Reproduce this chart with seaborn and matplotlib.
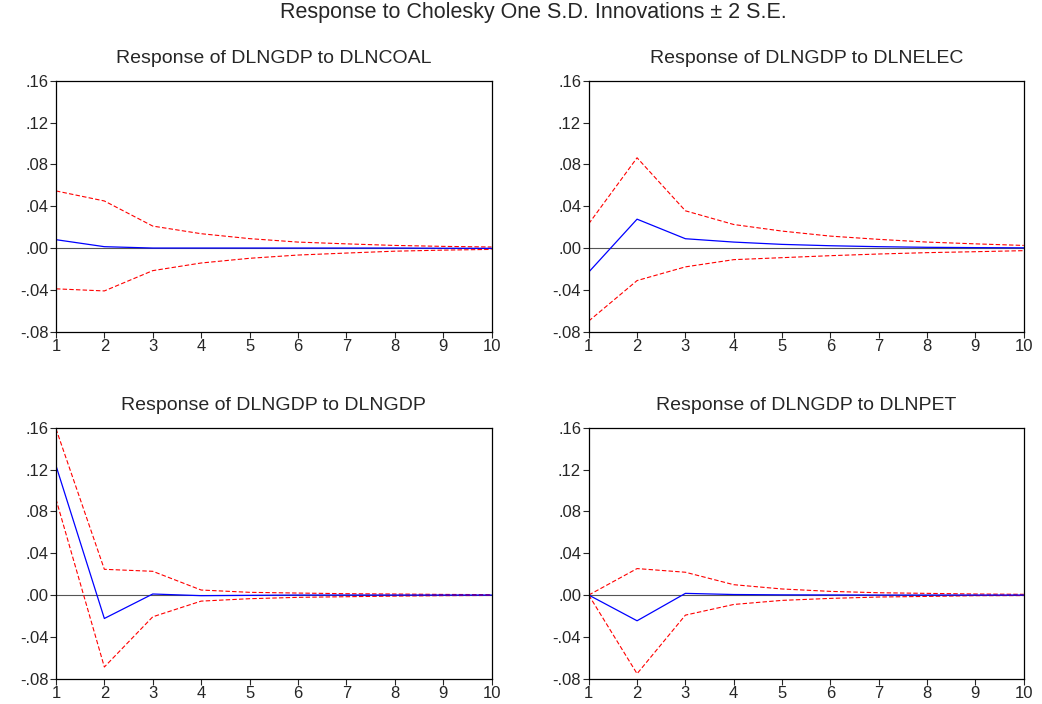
import numpy as np
import pandas as pd
import matplotlib
matplotlib.use("Agg")
import matplotlib.pyplot as plt
from matplotlib.ticker import FuncFormatter
import seaborn as sns

# ---- data ----
periods = list(range(1, 11))

titles = ["Response of DLNGDP to DLNCOAL", "Response of DLNGDP to DLNELEC",
          "Response of DLNGDP to DLNGDP", "Response of DLNGDP to DLNPET"]

coal_resp = [0.008, 0.0013, 0.0, 0.0, 0.0, 0.0, 0.0, 0.0, -0.0002, -0.0003]
coal_up = [0.0546, 0.045, 0.021, 0.0137, 0.009, 0.0057, 0.004, 0.0025, 0.0016, 0.001]
coal_lo = [-0.039, -0.041, -0.0216, -0.0143, -0.0098, -0.0067, -0.0048, -0.003, -0.002, -0.0013]

elec_resp = [-0.023, 0.0276, 0.0089, 0.0057, 0.0035, 0.0022, 0.0013, 0.0007, 0.0004, 0.0002]
elec_up = [0.0232, 0.0863, 0.0356, 0.0225, 0.0162, 0.0114, 0.0083, 0.0057, 0.004, 0.0025]
elec_lo = [-0.0698, -0.0311, -0.018, -0.0111, -0.0092, -0.0073, -0.0057, -0.0044, -0.0035, -0.0025]

gdp_resp = [0.1238, -0.0224, 0.001, -0.0006, -0.0003, 0.0, 0.0, 0.0, 0.0, 0.0]
gdp_up = [0.159, 0.0246, 0.0227, 0.0048, 0.0026, 0.0019, 0.0013, 0.001, 0.0006, 0.0004]
gdp_lo = [0.0918, -0.0688, -0.0208, -0.0058, -0.0035, -0.0022, -0.0016, -0.001, -0.0006, -0.0004]

pet_resp = [0.0, -0.0246, 0.0016, 0.0005, 0.0002, 0.0001, 0.0, 0.0, 0.0, 0.0]
pet_up = [0.0, 0.0253, 0.0218, 0.0099, 0.0058, 0.0035, 0.0022, 0.0016, 0.001, 0.0007]
pet_lo = [0.0, -0.0752, -0.0192, -0.009, -0.0051, -0.0032, -0.0019, -0.0013, -0.0006, -0.0005]

panels = [(coal_resp, coal_up, coal_lo), (elec_resp, elec_up, elec_lo),
          (gdp_resp, gdp_up, gdp_lo), (pet_resp, pet_up, pet_lo)]

yticks = [-0.08, -0.04, 0.0, 0.04, 0.08, 0.12, 0.16]

# ---- figure ----
sns.set_style("ticks")
plt.rcParams["font.family"] = ["Liberation Sans", "DejaVu Sans"]

fig = plt.figure(figsize=(10.42, 7.04), dpi=100)

# axes boxes in figure fractions [left, bottom, width, height]
boxes = [[0.0537, 0.5288, 0.418, 0.3566], [0.565, 0.5288, 0.4175, 0.3566],
         [0.0537, 0.0359, 0.418, 0.3566], [0.565, 0.0359, 0.4175, 0.3566]]


def fmt(v, pos):
    s = "%.2f" % v
    return s.replace("0.", ".", 1)


for box, title, (resp, up, lo) in zip(boxes, titles, panels):
    ax = fig.add_axes(box)
    df = pd.DataFrame({"period": periods, "resp": resp, "up": up, "lo": lo})
    ax.axhline(0, color="#555555", lw=0.8, zorder=1)
    sns.lineplot(data=df, x="period", y="up", ax=ax, color="red", lw=0.8,
                 dashes=False, linestyle=(0, (4, 2)))
    sns.lineplot(data=df, x="period", y="lo", ax=ax, color="red", lw=0.8,
                 dashes=False, linestyle=(0, (4, 2)))
    sns.lineplot(data=df, x="period", y="resp", ax=ax, color="blue", lw=0.9)

    ax.set_xlim(1, 10)
    ax.set_ylim(-0.08, 0.16)
    ax.set_xticks(periods)
    ax.set_yticks(yticks)
    ax.yaxis.set_major_formatter(FuncFormatter(fmt))
    ax.set_xlabel("")
    ax.set_ylabel("")
    ax.tick_params(axis="both", labelsize=12, length=4, width=0.8, pad=1.5,
                   direction="out")
    ax.tick_params(top=False, right=False)
    for sp in ax.spines.values():
        sp.set_visible(True)
        sp.set_linewidth(0.9)
        sp.set_color("black")
    ax.set_title(title, fontsize=14, pad=13)

fig.suptitle("Response to Cholesky One S.D. Innovations \u00b1 2 S.E.",
             fontsize=15.5, x=0.512, y=0.997)

plt.savefig("out.png", dpi=100)
